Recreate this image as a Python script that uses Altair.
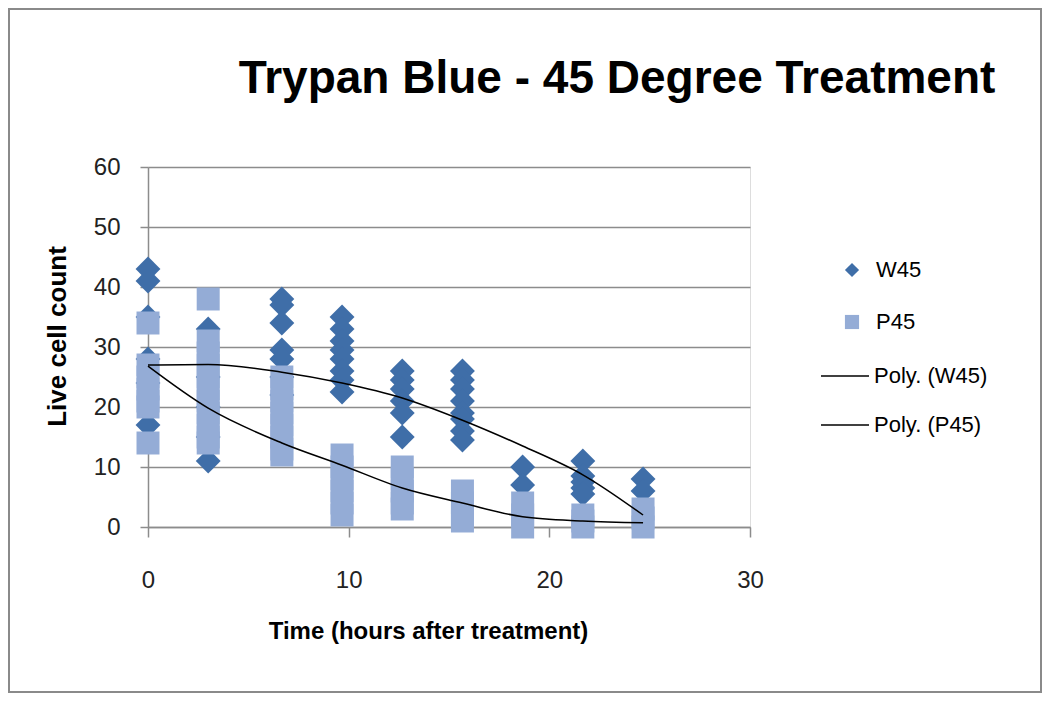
import altair as alt
import pandas as pd

TITLE = "Trypan Blue - 45 Degree Treatment"
X_TITLE = "Time (hours after treatment)"
Y_TITLE = "Live cell count"

times = [0, 3, 6.67, 9.67, 12.67, 15.67, 18.67, 21.67, 24.67]

w45_counts = [
    [43, 41, 35, 28, 24, 17],
    [33, 25, 20, 15, 11],
    [38, 37, 34, 29.5, 28, 25, 22],
    [35, 33, 31, 29.5, 28, 26, 24.5, 22.5],
    [26, 24.5, 23, 21, 19, 15],
    [26, 24.5, 23, 21, 19, 18, 16, 14.5],
    [10, 7],
    [11, 8.5, 7.5, 6.5, 5.5],
    [8, 6],
]
p45_counts = [
    [34, 27, 25, 23, 21, 20, 14],
    [38, 31, 29, 27, 25, 23, 21, 19, 17, 15, 14],
    [25, 23, 21, 19, 17, 15, 13, 12],
    [12, 10, 8, 6, 4, 2],
    [10, 8, 6, 4, 3],
    [6, 4, 2, 1],
    [4, 2, 0],
    [2, 1, 0],
    [3, 1.5, 0],
]
w45_poly = [27, 27.1, 25.8, 24, 21.5, 17.8, 13.5, 8.7, 2]
p45_poly = [26.8, 19.8, 14, 10.3, 6.5, 4, 1.7, 1, 0.7]

point_series = ["W45", "P45"]
line_series = ["Poly. (W45)", "Poly. (P45)"]

W_COLOR = "#3F6EA8"
P_COLOR = "#94ACD6"
GRID = "#8C8C8C"
FONT = "Liberation Sans"


def long_df(counts, name):
    rows = []
    for t, vals in zip(times, counts):
        for v in vals:
            rows.append({"time": t, "count": v, "series": name})
    return pd.DataFrame(rows)


w_df = long_df(w45_counts, "W45")
p_df = long_df(p45_counts, "P45")
line_df = pd.concat([
    pd.DataFrame({"time": times, "count": w45_poly, "series": line_series[0]}),
    pd.DataFrame({"time": times, "count": p45_poly, "series": line_series[1]}),
])

x_enc = alt.X(
    "time:Q",
    scale=alt.Scale(domain=[0, 30], nice=False),
    axis=alt.Axis(
        values=[0, 10, 20, 30], grid=False, domainColor=GRID, domainWidth=1.5,
        tickColor=GRID, tickWidth=1.5, tickSize=10, labelPadding=31, labelFlush=False,
        labelFontSize=24, labelColor="#222222", labelFont=FONT,
        title=X_TITLE, titleFontSize=24, titleFontWeight="bold", titleFont=FONT,
        titleColor="#000000", titleX=280, titleY=111, titleBaseline="alphabetic",
        titleAlign="center",
    ),
)
y_enc = alt.Y(
    "count:Q",
    scale=alt.Scale(domain=[0, 60], nice=False),
    axis=alt.Axis(
        values=[0, 10, 20, 30, 40, 50, 60], grid=True, gridColor=GRID, gridWidth=1.5,
        domainColor=GRID, domainWidth=1.5, tickColor=GRID, tickWidth=1.5, tickSize=8,
        labelPadding=20, labelFlush=False, labelFontSize=24, labelColor="#222222", labelFont=FONT,
        title=Y_TITLE, titleFontSize=26, titleFontWeight="bold", titleFont=FONT,
        titleColor="#000000", titleX=-83, titleY=169, titleAngle=270,
        titleBaseline="alphabetic", titleAlign="center",
    ),
)

legend_pts = alt.Legend(
    title=None, orient="none", legendX=693, legendY=92, symbolSize=200,
    labelFontSize=22, labelFont=FONT, labelColor="#000000", labelOffset=13,
    rowPadding=30, padding=0, symbolStrokeWidth=0,
)
legend_lines = alt.Legend(
    title=None, orient="none", legendX=672, legendY=184, symbolType="stroke",
    symbolSize=2304, symbolStrokeWidth=1.5, symbolStrokeColor="#000000",
    labelFontSize=22, labelFont=FONT, labelColor="#000000", labelOffset=4,
    rowPadding=13, padding=0,
)

color_pts = alt.Color("series:N", scale=alt.Scale(domain=point_series, range=[W_COLOR, P_COLOR]), legend=legend_pts)
shape_pts = alt.Shape("series:N", scale=alt.Scale(domain=point_series, range=["diamond", "square"]), legend=legend_pts)

w_layer = alt.Chart(w_df).mark_point(filled=True, size=620, opacity=1).encode(
    x=x_enc, y=y_enc, color=color_pts, shape=shape_pts)
p_layer = alt.Chart(p_df).mark_point(filled=True, size=529, opacity=1).encode(
    x=x_enc, y=y_enc, color=color_pts, shape=shape_pts)
points = alt.layer(w_layer, p_layer)

lines = alt.Chart(line_df).mark_line(strokeWidth=1.5, interpolate="monotone").encode(
    x=x_enc, y=y_enc,
    color=alt.Color("series:N", scale=alt.Scale(domain=line_series, range=["#000000", "#000000"]),
                    legend=legend_lines),
    detail="series:N",
)

one = pd.DataFrame({"label": [TITLE]})
border = alt.Chart(one).mark_rect(filled=False, stroke="#8A8A8A", strokeWidth=2).encode(
    x=alt.value(-139), x2=alt.value(893), y=alt.value(-158), y2=alt.value(525))
title = alt.Chart(one).mark_text(
    font=FONT, fontSize=46, fontWeight="bold", color="#000000", align="center",
    baseline="alphabetic").encode(text="label:N", x=alt.value(469), y=alt.value(-74))

chart = alt.layer(border, points, lines, title).resolve_scale(
    color="independent", shape="independent"
).properties(
    width=602, height=360,
    autosize=alt.AutoSizeParams(type="none"),
    padding={"left": 140, "top": 159, "right": 292, "bottom": 166},
).configure_view(stroke=None).configure(background="#FFFFFF")

chart.save("out.html", embed_options={"renderer": "svg", "actions": False})
